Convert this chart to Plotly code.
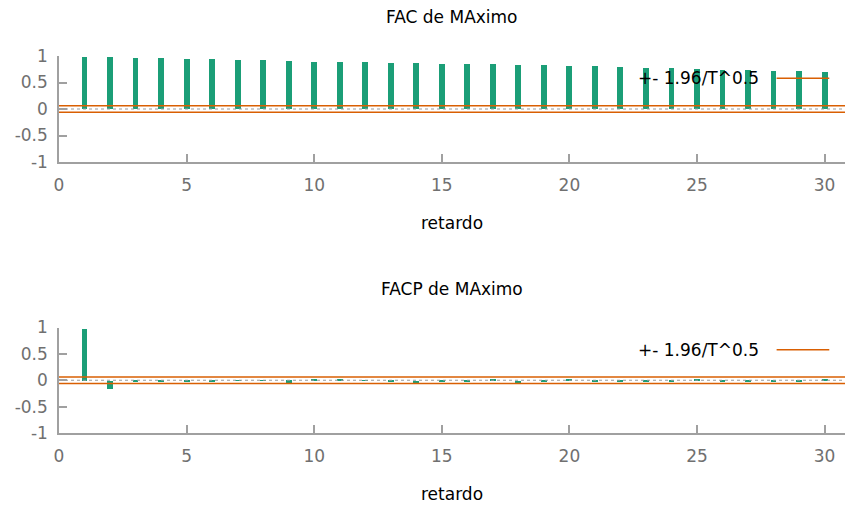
import plotly.graph_objects as go

lags = list(range(1, 31))
fac = [0.987, 0.975, 0.968, 0.956, 0.949, 0.937, 0.930, 0.918, 0.905, 0.892,
       0.886, 0.881, 0.873, 0.867, 0.854, 0.848, 0.843, 0.835, 0.824, 0.811,
       0.805, 0.792, 0.778, 0.767, 0.748, 0.741, 0.735, 0.722, 0.716, 0.703]
facp = [0.987, -0.155, -0.010, -0.010, -0.008, -0.010, 0.010, 0.008, -0.035, 0.030,
        0.030, 0.012, -0.030, -0.040, -0.012, -0.010, 0.020, -0.040, -0.012, 0.022,
        -0.030, -0.010, -0.030, -0.010, 0.030, -0.030, -0.012, -0.006, -0.006, 0.030]
band = 0.06
titles = ["FAC de MAximo", "FACP de MAximo"]
xlabel = "retardo"
legend_text = "+- 1.96/T^0.5"

GREEN = "#1b9e77"
ORANGE = "#d95f02"
AXIS = "#a0a0a0"
FS = 17
TICKFONT = dict(family="DejaVu Sans", size=FS, color="#707070")

W, H = 845, 506
L, R, T, B = 59, 0, 56, 73
ph = H - T - B
top_px = (56, 162)
bot_px = (327.5, 433)
def py(p):
    return (H - B - p) / ph

fig = go.Figure()
xr = [0, 30.8]
for i, (vals, ax) in enumerate([(fac, ""), (facp, "2")]):
    xa = "x" + ax
    ya = "y" + ax
    fig.add_trace(go.Scatter(x=xr, y=[0, 0], mode="lines", xaxis=xa, yaxis=ya,
                             line=dict(color="#9a9a9a", width=1, dash="dot"),
                             showlegend=False, hoverinfo="skip"))
    fig.add_trace(go.Bar(x=lags, y=vals, base=0, width=0.23, xaxis=xa, yaxis=ya,
                         marker=dict(color=GREEN, line=dict(width=0)),
                         showlegend=False))
    for s in (1, -1):
        fig.add_trace(go.Scatter(x=xr, y=[s * band, s * band], mode="lines",
                                 xaxis=xa, yaxis=ya,
                                 line=dict(color=ORANGE, width=1.5),
                                 showlegend=False, hoverinfo="skip"))

axis_common = dict(showline=True, linecolor=AXIS, linewidth=1.5, ticks="inside",
                   ticklen=8, tickcolor=AXIS, tickwidth=1.5, showgrid=False,
                   zeroline=False, tickfont=TICKFONT, mirror=False)
yt = [-1, -0.5, 0, 0.5, 1]
ytt = ["-1", "-0.5", "0", "0.5", "1"]
xt = [0, 5, 10, 15, 20, 25, 30]

fig.update_layout(
    width=W, height=H, margin=dict(l=L, r=R, t=T, b=B),
    paper_bgcolor="white", plot_bgcolor="white", bargap=0,
    font=dict(family="DejaVu Sans"),
    xaxis=dict(domain=[0, 1], range=xr, anchor="y", tickvals=xt,
               ticklabelstandoff=7, **axis_common),
    yaxis=dict(domain=[py(top_px[1]), py(top_px[0])], range=[-1, 1], anchor="x",
               tickvals=yt, ticktext=ytt, ticklabelstandoff=6, **axis_common),
    xaxis2=dict(domain=[0, 1], range=xr, anchor="y2", tickvals=xt,
                ticklabelstandoff=7, **axis_common),
    yaxis2=dict(domain=[py(bot_px[1]), py(bot_px[0])], range=[-1, 1], anchor="x2",
                tickvals=yt, ticktext=ytt, ticklabelstandoff=6, **axis_common),
)

ann = []
shapes = []
for k, (axn, ttl) in enumerate([("", titles[0]), ("2", titles[1])]):
    ydom = fig.layout["yaxis" + axn].domain
    ann.append(dict(text=ttl, xref="paper", yref="paper", x=0.5, y=ydom[1],
                    yshift=27, showarrow=False, xanchor="center", yanchor="bottom",
                    font=dict(family="DejaVu Sans", size=FS, color="black")))
    ann.append(dict(text=xlabel, xref="paper", yref="paper", x=0.5, y=ydom[0],
                    yshift=-49, showarrow=False, xanchor="center", yanchor="top",
                    font=dict(family="DejaVu Sans", size=FS, color="black")))
    ann.append(dict(text=legend_text, xref="x" + axn + " domain", yref="y" + axn + " domain",
                    x=0.893, y=0.79, showarrow=False, xanchor="right", yanchor="middle",
                    font=dict(family="DejaVu Sans", size=FS, color="black")))
    shapes.append(dict(type="line", xref="x" + axn + " domain", yref="y" + axn + " domain",
                       x0=0.913, x1=0.98, y0=0.79, y1=0.79,
                       line=dict(color=ORANGE, width=1.5)))
fig.update_layout(annotations=ann, shapes=shapes)

fig.write_html("out.html")
